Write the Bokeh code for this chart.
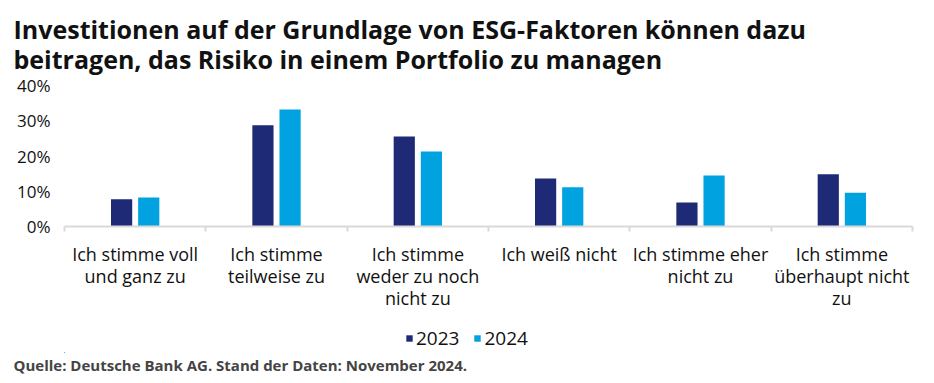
from bokeh.plotting import figure
from bokeh.layouts import column
from bokeh.models import (Range1d, FixedTicker, NumeralTickFormatter, LinearAxis,
                          ColumnDataSource, Legend, LegendItem, Title)
from bokeh.transform import dodge
from bokeh.embed import file_html
from bokeh.resources import INLINE

# ---- data ----
categories = [
    "Ich stimme voll\nund ganz zu",
    "Ich stimme\nteilweise zu",
    "Ich stimme\nweder zu noch\nnicht zu",
    "Ich weiß nicht",
    "Ich stimme eher\nnicht zu",
    "Ich stimme\nüberhaupt nicht\nzu",
]
values_2023 = [0.077, 0.287, 0.255, 0.136, 0.068, 0.148]
values_2024 = [0.082, 0.332, 0.213, 0.111, 0.145, 0.096]
series_names = ["2023", "2024"]
y_ticks = [0, 0.1, 0.2, 0.3, 0.4]

title_text = ("Investitionen auf der Grundlage von ESG-Faktoren können dazu\n"
              "beitragen, das Risiko in einem Portfolio zu managen")
source_text = "Quelle: Deutsche Bank AG. Stand der Daten: November 2024."

C2023 = "#1F2A76"
C2024 = "#00A3E0"
FONT = "Open Sans"

n = len(categories)
xpos = [i + 0.5 for i in range(n)]

src = ColumnDataSource(dict(x=xpos, v23=values_2023, v24=values_2024))

p = figure(frame_width=848, frame_height=141, output_backend="svg", toolbar_location=None,
           x_range=Range1d(0, n), y_range=Range1d(0, 0.4),
           x_axis_type=None, y_axis_type=None,
           min_border_left=64, min_border_right=14, min_border_top=0, min_border_bottom=0)
p.outline_line_color = None
p.xgrid.grid_line_color = None
p.ygrid.grid_line_color = None
p.background_fill_color = "white"
p.border_fill_color = "white"

# y axis
yaxis = LinearAxis(ticker=FixedTicker(ticks=y_ticks), formatter=NumeralTickFormatter(format="0%"))
yaxis.axis_line_color = None
yaxis.major_tick_line_color = None
yaxis.minor_tick_line_color = None
yaxis.major_label_standoff = 8
yaxis.major_label_text_font = FONT
yaxis.major_label_text_font_size = "17px"
yaxis.major_label_text_color = "#111111"
p.add_layout(yaxis, "left")

# x axis: labels at category centres, minor ticks at category boundaries
xaxis = LinearAxis(ticker=FixedTicker(ticks=xpos, minor_ticks=list(range(n + 1))))
xaxis.axis_line_color = "#d9d9d9"
xaxis.axis_line_width = 2
xaxis.major_tick_line_color = None
xaxis.minor_tick_line_color = "#d9d9d9"
xaxis.minor_tick_line_width = 2
xaxis.minor_tick_out = 5
xaxis.minor_tick_in = 0
xaxis.major_label_overrides = {x: c for x, c in zip(xpos, categories)}
xaxis.major_label_text_font = FONT
xaxis.major_label_text_font_size = "18px"
xaxis.major_label_text_color = "#111111"
xaxis.major_label_text_line_height = 0.92
xaxis.major_label_standoff = 9
p.add_layout(xaxis, "below")

p.vbar(x=dodge("x", -0.096, range=p.x_range), top="v23", width=0.15, source=src,
       fill_color=C2023, line_color=None)
p.vbar(x=dodge("x", 0.096, range=p.x_range), top="v24", width=0.15, source=src,
       fill_color=C2024, line_color=None)

title = Title(text=title_text, align="left", offset=-51,
              text_font=FONT, text_font_style="bold", text_font_size="25px",
              text_color="#111111", text_line_height=0.91, standoff=18)
p.add_layout(title, "above")

# ---- legend + source strip (its ranges lie far from the data, so only the legend shows) ----
p2 = figure(frame_width=848, frame_height=40, output_backend="svg", toolbar_location=None,
            x_range=Range1d(100, 106), y_range=Range1d(100, 101),
            x_axis_type=None, y_axis_type=None,
            min_border_left=64, min_border_right=14, min_border_top=0, min_border_bottom=0)
p2.outline_line_color = None
p2.xgrid.grid_line_color = None
p2.ygrid.grid_line_color = None
p2.background_fill_color = "white"
p2.border_fill_color = "white"

lr23 = p2.vbar(x="x", top="v23", width=0.15, source=src, fill_color=C2023, line_color=None)
lr24 = p2.vbar(x="x", top="v24", width=0.15, source=src, fill_color=C2024, line_color=None)

legend = Legend(items=[LegendItem(label=series_names[0], renderers=[lr23]),
                       LegendItem(label=series_names[1], renderers=[lr24])],
                orientation="horizontal", location=(341, 1))
legend.glyph_width = 8
legend.glyph_height = 8
legend.label_text_font = FONT
legend.label_text_font_size = "19px"
legend.label_text_color = "#111111"
legend.label_standoff = 3
legend.spacing = 14
legend.padding = 0
legend.margin = 0
legend.border_line_color = None
legend.background_fill_alpha = 0
p2.add_layout(legend)

source = Title(text=source_text, align="left", offset=-51,
               text_font=FONT, text_font_style="bold", text_font_size="15px",
               text_color="#444444", standoff=0)
p2.add_layout(source, "below")

layout = column(p, p2, spacing=0)
open("out.html", "w").write(file_html(layout, INLINE))
